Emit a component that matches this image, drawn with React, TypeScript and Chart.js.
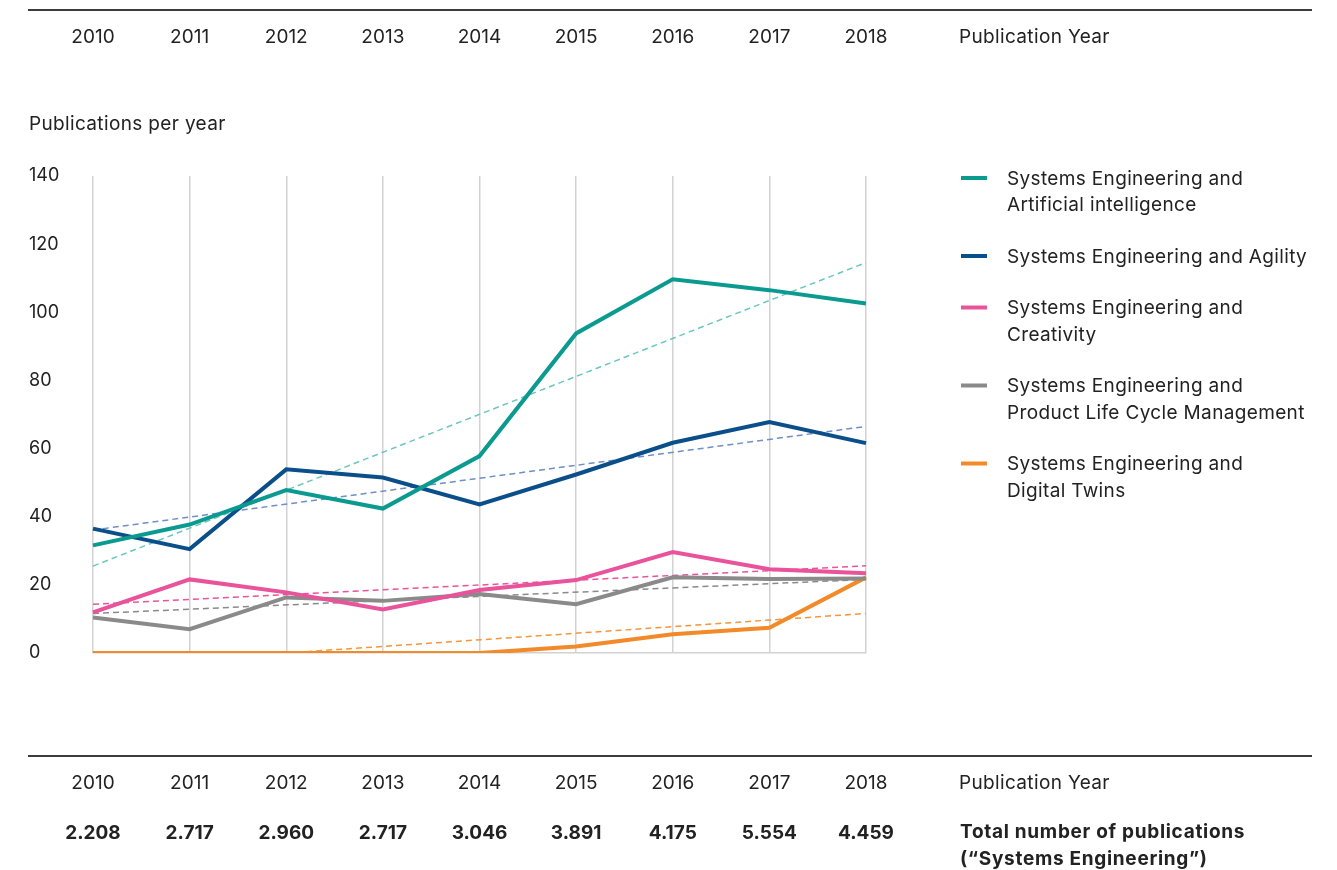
import React, { useEffect, useRef } from 'react';
import { Chart, registerables } from 'chart.js';

Chart.register(...registerables);

const years = ['2010', '2011', '2012', '2013', '2014', '2015', '2016', '2017', '2018'];
const totals = ['2.208', '2.717', '2.960', '2.717', '3.046', '3.891', '4.175', '5.554', '4.459'];

const aiValues = [31.6, 37.7, 47.8, 42.4, 57.8, 93.8, 109.7, 106.5, 102.6];
const agilityValues = [36.5, 30.5, 53.9, 51.5, 43.6, 52.4, 61.7, 67.8, 61.6];
const creativityValues = [11.9, 21.6, 17.8, 12.8, 18.5, 21.4, 29.6, 24.6, 23.4];
const plmValues = [10.4, 7.0, 16.3, 15.3, 17.3, 14.3, 22.2, 21.7, 21.9];
const twinsValues = [0, 0, 0, 0, 0, 1.9, 5.5, 7.4, 22.2];

// trend lines (start / end points)
const aiTrend = [25.5, null, null, null, null, null, null, null, 114.6];
const agilityTrend = [36.1, null, null, null, null, null, null, null, 66.5];
const creativityTrend = [14.3, null, null, null, null, null, null, null, 25.6];
const plmTrend = [11.6, null, null, null, null, null, null, null, 21.6];
const twinsTrend = [null, null, 0, null, null, null, null, null, 11.6];

const seriesLabels = [
  ['Systems Engineering and', 'Artificial intelligence'],
  ['Systems Engineering and Agility'],
  ['Systems Engineering and', 'Creativity'],
  ['Systems Engineering and', 'Product Life Cycle Management'],
  ['Systems Engineering and', 'Digital Twins'],
];
const seriesColors = ['#0b9a90', '#0b4f8a', '#e9539b', '#8a8a8a', '#f28a2a'];
const trendColors = ['#6cc6c0', '#6f8fc6', '#e9539b', '#8a8a8a', '#f4963a'];

const xAxisTitle = 'Publication Year';
const yAxisTitle = 'Publications per year';
const totalsTitle = ['Total number of publications', '(\u201cSystems Engineering\u201d)'];

const FONT = 'Inter, "Noto Sans", sans-serif';
const TEXT = '#222222';

const framePlugin = {
  id: 'framePlugin',
  afterDraw(chart: any) {
    const { ctx } = chart;
    const xs = chart.scales.x;
    ctx.save();
    ctx.strokeStyle = '#3c3c3c';
    ctx.lineWidth = 2;
    ctx.beginPath();
    ctx.moveTo(28, 10);
    ctx.lineTo(1312, 10);
    ctx.moveTo(28, 756);
    ctx.lineTo(1312, 756);
    ctx.stroke();

    ctx.fillStyle = TEXT;
    ctx.textBaseline = 'middle';
    ctx.font = `19px ${FONT}`;
    ctx.letterSpacing = '0px';
    ctx.textAlign = 'center';
    years.forEach((yr, i) => {
      const px = xs.getPixelForValue(i);
      ctx.fillText(yr, px, 37);
      ctx.fillText(yr, px, 783);
    });
    ctx.textAlign = 'left';
    ctx.letterSpacing = '0.35px';
    ctx.fillText(xAxisTitle, 959, 37);
    ctx.fillText(xAxisTitle, 959, 783);
    ctx.fillText(yAxisTitle, 29, 124);

    ctx.font = `bold 19px ${FONT}`;
    ctx.letterSpacing = '0px';
    ctx.textAlign = 'center';
    totals.forEach((t, i) => {
      ctx.fillText(t, xs.getPixelForValue(i), 833);
    });
    ctx.textAlign = 'left';
    ctx.letterSpacing = '0.7px';
    ctx.fillText(totalsTitle[0], 960, 832);
    ctx.fillText(totalsTitle[1], 960, 859);

    // legend
    ctx.font = `19px ${FONT}`;
    ctx.letterSpacing = '0.35px';
    let y = 179;
    seriesLabels.forEach((lines, i) => {
      ctx.strokeStyle = seriesColors[i];
      ctx.lineWidth = 4;
      ctx.beginPath();
      ctx.moveTo(961, y - 1);
      ctx.lineTo(987, y - 1);
      ctx.stroke();
      lines.forEach((ln, j) => {
        ctx.fillText(ln, 1007, y + j * 26.5);
      });
      y += lines.length * 26.5 + 25;
    });
    ctx.letterSpacing = '0px';
    ctx.restore();
  },
};

export default function App() {
  const ref = useRef<HTMLCanvasElement>(null);
  useEffect(() => {
    document.body.style.margin = '0';
    const solid = [aiValues, agilityValues, creativityValues, plmValues, twinsValues].map((d, i) => ({
      label: seriesLabels[i].join(' '),
      data: d,
      borderColor: seriesColors[i],
      backgroundColor: seriesColors[i],
      borderWidth: 4,
      pointRadius: 0,
      tension: 0,
      fill: false,
    }));
    const trends = [aiTrend, agilityTrend, creativityTrend, plmTrend, twinsTrend].map((d, i) => ({
      label: seriesLabels[i].join(' ') + ' (trend)',
      data: d,
      borderColor: trendColors[i],
      backgroundColor: trendColors[i],
      borderWidth: 1.5,
      borderDash: [6, 4],
      pointRadius: 0,
      spanGaps: true,
      tension: 0,
      fill: false,
    }));
    const chart = new Chart(ref.current!, {
      type: 'line',
      data: { labels: years, datasets: [...solid, ...trends] as any },
      options: {
        responsive: false,
        animation: false,
        layout: { padding: { left: 29, right: 471, top: 176, bottom: 217 } },
        plugins: { legend: { display: false }, tooltip: { enabled: false } },
        scales: {
          x: {
            offset: false,
            ticks: { display: false },
            grid: { color: '#d2d2d2', lineWidth: 1.5, drawTicks: false },
            border: { display: true, color: '#d2d2d2', width: 1.5 },
          },
          y: {
            min: 0,
            max: 140,
            ticks: {
              stepSize: 20,
              crossAlign: 'far',
              color: TEXT,
              font: { family: FONT, size: 18 },
            },
            grid: { display: false, drawTicks: false },
            border: { display: false },
            afterFit: (s: any) => {
              s.width = 64;
            },
          },
        },
      },
      plugins: [framePlugin],
    });
    return () => chart.destroy();
  }, []);
  return (
    <div style={{ width: 1337, height: 870, position: 'relative', background: '#fff' }}>
      <canvas ref={ref} width={1337} height={870} style={{ display: 'block' }} />
    </div>
  );
}
